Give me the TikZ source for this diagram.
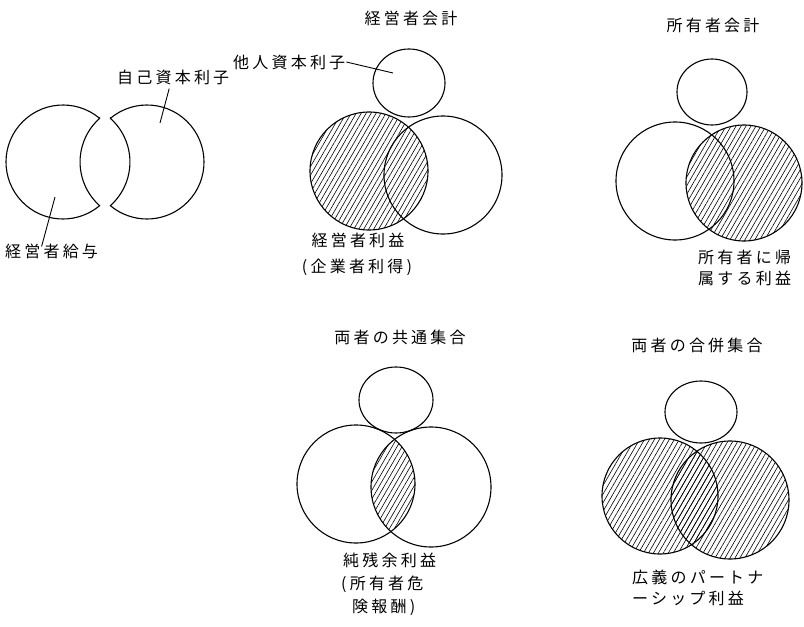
\documentclass[tikz,border=0pt]{standalone}
\usepackage{fontspec}
\newfontfamily\jp[LetterSpace=20]{Noto Sans CJK JP}
\usetikzlibrary{patterns.meta}
\begin{document}
\begin{tikzpicture}[x=1pt,y=-1pt,
  ring/.style={line width=1.1pt},
  hatch/.style={pattern={Lines[angle=60,distance=4.3pt,line width=0.6pt]}},
  lbl/.style={inner sep=0pt,font=\jp\fontsize{16}{19}\selectfont},
  leader/.style={line width=0.9pt}]
\useasboundingbox (0,0) rectangle (804,627);
\fill[white] (0,0) rectangle (804,627);

% ---------- left figure: two crescents ----------
\coordinate (Lc) at (63,162);
\coordinate (Rc) at (147,162);
\draw[ring] (Lc) ++(-50:57) arc[start angle=-50,end angle=-310,radius=57]
  arc[start angle=131.7,end angle=228.3,radius=58.5] -- cycle;
\draw[ring] (Rc) ++(-130:57) arc[start angle=-130,end angle=130,radius=57]
  arc[start angle=48.3,end angle=-48.3,radius=58.5] -- cycle;
\node[lbl,anchor=west] (jk) at (117,77) {自己資本利子};
\coordinate (jktip) at (160,123);
\draw[leader] ([xshift=-4pt,yshift=-4pt]jk.south) -- (jktip);
\node[lbl,anchor=west] (kk) at (5,251) {経営者給与};
\coordinate (kktip) at (55,197);
\draw[leader] ([xshift=-10pt,yshift=-3pt]kk.north) -- (kktip);

% ---------- top middle: 経営者会計 ----------
\node[lbl] (t1) at (411,18) {経営者会計};
\coordinate (s1) at (409,83);
\coordinate (a1) at (369,171);
\coordinate (b1) at (443,175);
\draw[ring] (s1) circle[x radius=36,y radius=34];
\draw[ring,hatch] (a1) circle[radius=59];
\draw[ring] (b1) circle[radius=59];
\node[lbl,anchor=west] (tn) at (233,62) {他人資本利子};
\coordinate (tntip) at (393,73);
\draw[leader] ([xshift=1pt]tn.east) -- (tntip);
\node[lbl] (l1a) at (358,240) {経営者利益};
\node[lbl] (l1b) at (357,267) {(企業者利得)};

% ---------- top right: 所有者会計 ----------
\node[lbl] (t2) at (713,25) {所有者会計};
\coordinate (s2) at (712,92);
\coordinate (a2) at (675,181);
\coordinate (b2) at (744,183);
\draw[ring] (s2) circle[x radius=35,y radius=33];
\draw[ring,hatch] (b2) circle[radius=58];
\draw[ring] (a2) circle[radius=59];
\node[lbl,anchor=west] (l2a) at (698,257) {所有者に帰};
\node[lbl,anchor=west] (l2b) at (698,278) {属する利益};

% ---------- bottom middle: 両者の共通集合 ----------
\node[lbl] (t3) at (400,337) {両者の共通集合};
\coordinate (s3) at (396,400);
\coordinate (a3) at (356,484);
\coordinate (b3) at (431,487);
\draw[ring] (s3) circle[x radius=37,y radius=33];
\begin{scope}
  \clip (a3) circle[radius=59];
  \fill[hatch] (b3) circle[radius=60];
\end{scope}
\draw[ring] (a3) circle[radius=59];
\draw[ring] (b3) circle[radius=60];
\node[lbl,anchor=west] (l3a) at (343,560) {純残余利益};
\node[lbl,anchor=west] (l3b) at (341,584) {(所有者危};
\node[lbl,anchor=west] (l3c) at (352,607) {険報酬)};

% ---------- bottom right: 両者の合併集合 ----------
\node[lbl] (t4) at (697,345) {両者の合併集合};
\coordinate (s4) at (701,412);
\coordinate (a4) at (660,496);
\coordinate (b4) at (730,500);
\draw[ring] (s4) circle[x radius=36,y radius=31];
\fill[hatch] (a4) circle[radius=58];
\fill[hatch] (b4) circle[radius=59];
\draw[ring] (a4) circle[radius=58];
\draw[ring] (b4) circle[radius=59];
\node[lbl,anchor=west] (l4a) at (632,577) {広義のパートナ};
\node[lbl,anchor=west] (l4b) at (632,598) {ーシップ利益};
\end{tikzpicture}
\end{document}
